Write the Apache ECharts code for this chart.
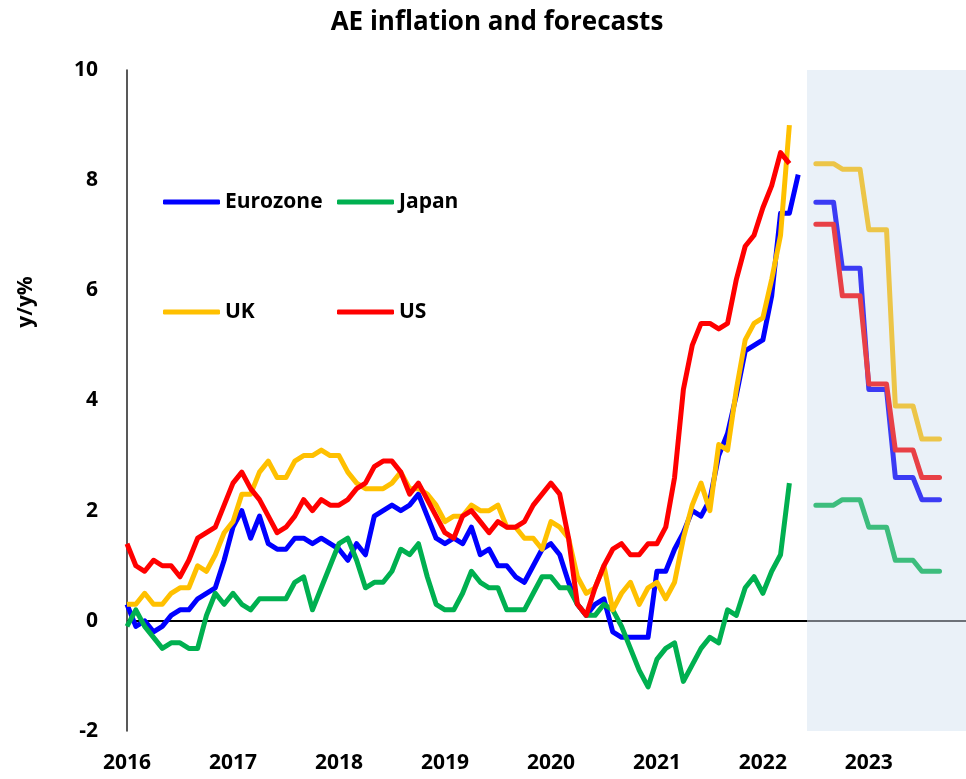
<!DOCTYPE html>
<html lang="en">
<head>
<meta charset="UTF-8">
<title>AE inflation and forecasts</title>
<script src="https://cdn.jsdelivr.net/npm/echarts@6/dist/echarts.min.js"></script>
</head>
<body style="margin:0;background:#fff">
<div id="main" style="width:966px;height:779px;"></div>
<script type="text/javascript">

// year tick labels and monthly categories, Jan 2016 .. Dec 2023
const years = ['2016', '2017', '2018', '2019', '2020', '2021', '2022', '2023'];
const months = [];
years.forEach(function (y) {
    for (let m = 1; m <= 12; m++) months.push(y + '-' + (m < 10 ? '0' : '') + m);
});

// actual y/y inflation, monthly from Jan 2016
const eurozone = [
    0.3, -0.1, 0.0, -0.2, -0.1, 0.1, 0.2, 0.2, 0.4, 0.5, 0.6, 1.1,
    1.7, 2.0, 1.5, 1.9, 1.4, 1.3, 1.3, 1.5, 1.5, 1.4, 1.5, 1.4,
    1.3, 1.1, 1.4, 1.2, 1.9, 2.0, 2.1, 2.0, 2.1, 2.3, 1.9, 1.5,
    1.4, 1.5, 1.4, 1.7, 1.2, 1.3, 1.0, 1.0, 0.8, 0.7, 1.0, 1.3,
    1.4, 1.2, 0.7, 0.3, 0.1, 0.3, 0.4, -0.2, -0.3, -0.3, -0.3, -0.3,
    0.9, 0.9, 1.3, 1.6, 2.0, 1.9, 2.2, 3.0, 3.4, 4.1, 4.9, 5.0,
    5.1, 5.9, 7.4, 7.4, 8.1
];
const japan = [
    -0.1, 0.2, -0.1, -0.3, -0.5, -0.4, -0.4, -0.5, -0.5, 0.1, 0.5, 0.3,
    0.5, 0.3, 0.2, 0.4, 0.4, 0.4, 0.4, 0.7, 0.8, 0.2, 0.6, 1.0,
    1.4, 1.5, 1.1, 0.6, 0.7, 0.7, 0.9, 1.3, 1.2, 1.4, 0.8, 0.3,
    0.2, 0.2, 0.5, 0.9, 0.7, 0.6, 0.6, 0.2, 0.2, 0.2, 0.5, 0.8,
    0.8, 0.6, 0.6, 0.3, 0.1, 0.1, 0.3, 0.2, -0.1, -0.5, -0.9, -1.2,
    -0.7, -0.5, -0.4, -1.1, -0.8, -0.5, -0.3, -0.4, 0.2, 0.1, 0.6, 0.8,
    0.5, 0.9, 1.2, 2.5
];
const uk = [
    0.3, 0.3, 0.5, 0.3, 0.3, 0.5, 0.6, 0.6, 1.0, 0.9, 1.2, 1.6,
    1.8, 2.3, 2.3, 2.7, 2.9, 2.6, 2.6, 2.9, 3.0, 3.0, 3.1, 3.0,
    3.0, 2.7, 2.5, 2.4, 2.4, 2.4, 2.5, 2.7, 2.4, 2.4, 2.3, 2.1,
    1.8, 1.9, 1.9, 2.1, 2.0, 2.0, 2.1, 1.7, 1.7, 1.5, 1.5, 1.3,
    1.8, 1.7, 1.5, 0.8, 0.5, 0.6, 1.0, 0.2, 0.5, 0.7, 0.3, 0.6,
    0.7, 0.4, 0.7, 1.5, 2.1, 2.5, 2.0, 3.2, 3.1, 4.2, 5.1, 5.4,
    5.5, 6.2, 7.0, 9.0
];
const us = [
    1.4, 1.0, 0.9, 1.1, 1.0, 1.0, 0.8, 1.1, 1.5, 1.6, 1.7, 2.1,
    2.5, 2.7, 2.4, 2.2, 1.9, 1.6, 1.7, 1.9, 2.2, 2.0, 2.2, 2.1,
    2.1, 2.2, 2.4, 2.5, 2.8, 2.9, 2.9, 2.7, 2.3, 2.5, 2.2, 1.9,
    1.6, 1.5, 1.9, 2.0, 1.8, 1.6, 1.8, 1.7, 1.7, 1.8, 2.1, 2.3,
    2.5, 2.3, 1.5, 0.3, 0.1, 0.6, 1.0, 1.3, 1.4, 1.2, 1.2, 1.4,
    1.4, 1.7, 2.6, 4.2, 5.0, 5.4, 5.4, 5.3, 5.4, 6.2, 6.8, 7.0,
    7.5, 7.9, 8.5, 8.3
];

// forecasts, monthly Jul 2022 .. Sep 2023
const fcstStart = 78;
const eurozoneF = [7.6, 7.6, 7.6, 6.4, 6.4, 6.4, 4.2, 4.2, 4.2, 2.6, 2.6, 2.6, 2.2, 2.2, 2.2];
const japanF    = [2.1, 2.1, 2.1, 2.2, 2.2, 2.2, 1.7, 1.7, 1.7, 1.1, 1.1, 1.1, 0.9, 0.9, 0.9];
const ukF       = [8.3, 8.3, 8.3, 8.2, 8.2, 8.2, 7.1, 7.1, 7.1, 3.9, 3.9, 3.9, 3.3, 3.3, 3.3];
const usF       = [7.2, 7.2, 7.2, 5.9, 5.9, 5.9, 4.3, 4.3, 4.3, 3.1, 3.1, 3.1, 2.6, 2.6, 2.6];

const FONT = '"Open Sans", "Noto Sans", sans-serif';

var chartDom = document.getElementById('main');
var myChart = echarts.init(chartDom);

function padded(arr) {
    return new Array(fcstStart).fill(null).concat(arr);
}

function actual(name, data, color) {
    return {
        name: name, type: 'line', data: data, symbol: 'none', z: 3,
        lineStyle: { color: color, width: 5, join: 'round' },
        itemStyle: { color: color }
    };
}
function forecast(name, data, color) {
    return {
        name: name, type: 'line', data: padded(data), symbol: 'none', z: 2,
        lineStyle: { color: color, width: 5, cap: 'round', join: 'round' },
        itemStyle: { color: color }
    };
}
function legendAt(name, left, top) {
    return {
        data: [name], left: left, top: top, padding: 0,
        icon: 'roundRect', itemWidth: 57, itemHeight: 5,
        selectedMode: false,
        textStyle: { fontFamily: FONT, fontWeight: 'bold', fontSize: 21, color: '#000', lineHeight: 24 }
    };
}

var ezSeries = actual('Eurozone', eurozone, '#0000ff');
ezSeries.markLine = {
    silent: true, symbol: 'none', z: 1,
    label: { show: false },
    data: [
        [{ coord: [months[0], 0], lineStyle: { color: '#000', width: 2, type: 'solid' } },
         { coord: [months[77], 0] }],
        [{ coord: [months[77], 0], lineStyle: { color: '#6d7178', width: 2, type: 'solid' } },
         { coord: [months[95], 0] }]
    ]
};

var ezFSeries = forecast('Eurozone f', eurozoneF, '#3b3bf4');
ezFSeries.markArea = {
    silent: true,
    itemStyle: { color: '#eaf1f8' },
    data: [[{ xAxis: months[77] }, { xAxis: months[95] }]]
};

var option = {
    animation: false,
    backgroundColor: '#fff',
    graphic: [
        {
            type: 'text', x: 497, y: 23,
            style: { text: 'AE inflation and forecasts', fontFamily: FONT, fontWeight: 'bold', fontSize: 26, fill: '#000', align: 'center', verticalAlign: 'middle' }
        },
        {
            type: 'text', x: 26, y: 302, rotation: Math.PI / 2,
            style: { text: 'y/y%', fontFamily: FONT, fontWeight: 'bold', fontSize: 21, fill: '#000', align: 'center', verticalAlign: 'middle' }
        }
    ],
    legend: [
        legendAt('Eurozone', 163, 190),
        legendAt('Japan', 337, 190),
        legendAt('UK', 163, 300),
        legendAt('US', 337, 300)
    ],
    grid: { left: 127, top: 70, width: 841, height: 661 },
    xAxis: {
        type: 'category',
        data: months,
        boundaryGap: false,
        axisLine: { show: false },
        axisTick: { show: false },
        splitLine: { show: false },
        axisLabel: {
            interval: function (index) { return index % 12 === 0; },
            formatter: function (value) { return value.slice(0, 4); },
            margin: 22,
            fontFamily: FONT, fontWeight: 'bold', fontSize: 21, color: '#000'
        }
    },
    yAxis: {
        type: 'value',
        min: -2, max: 10, interval: 2,
        axisLine: { show: true, lineStyle: { color: '#222', width: 1.5 } },
        axisTick: { show: false },
        splitLine: { show: false },
        axisLabel: { margin: 29, fontFamily: FONT, fontWeight: 'bold', fontSize: 21, color: '#000' }
    },
    series: [
        ezFSeries,
        forecast('Japan f', japanF, '#3dbd7d'),
        forecast('UK f', ukF, '#ecc548'),
        forecast('US f', usF, '#e84046'),
        ezSeries,
        actual('Japan', japan, '#00b050'),
        actual('UK', uk, '#ffc000'),
        actual('US', us, '#ff0000')
    ]
};

myChart.setOption(option);

</script>
</body>
</html>
